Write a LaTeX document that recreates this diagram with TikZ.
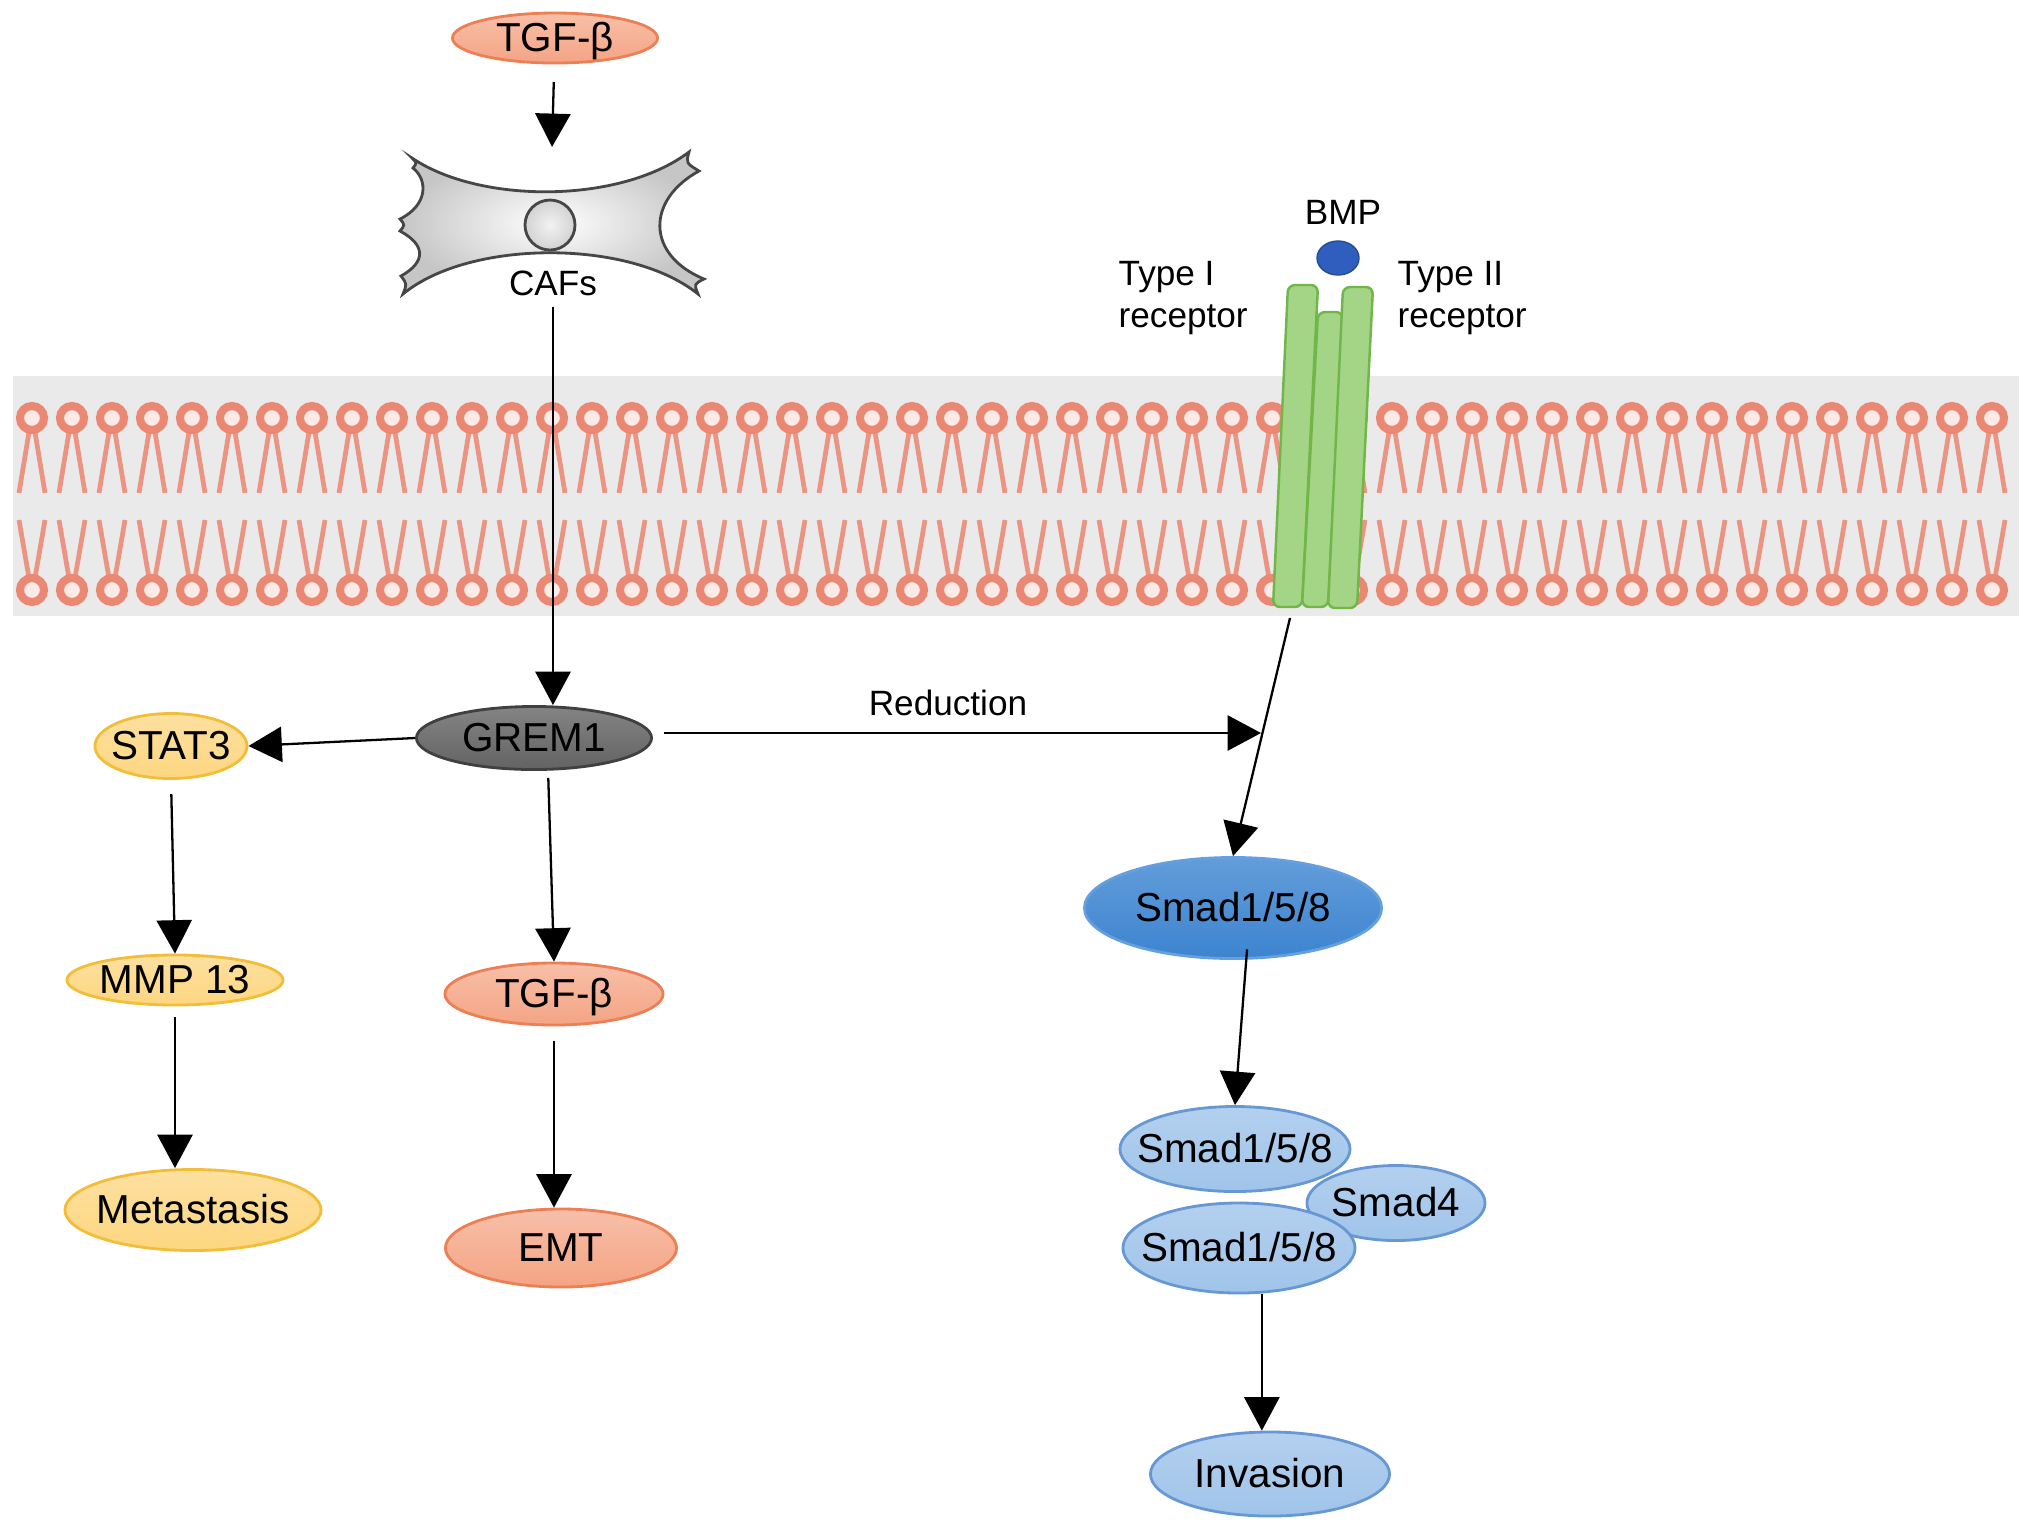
\documentclass[tikz,border=0pt]{standalone}
\usepackage{fontspec}
\setmainfont{Liberation Sans}
\usepackage{xcolor}
\usepackage{mathtools}
\usetikzlibrary{shapes.geometric,arrows.meta}

\definecolor{tgfcol}{RGB}{244,164,132}
\definecolor{tgfline}{RGB}{236,128,84}
\definecolor{statcol}{RGB}{253,214,128}
\definecolor{statline}{RGB}{242,190,58}
\definecolor{gremcol}{RGB}{110,110,110}
\definecolor{smadcol}{RGB}{60,132,208}
\definecolor{smadline}{RGB}{100,160,224}
\definecolor{cplxcol}{RGB}{160,196,234}
\definecolor{cplxline}{RGB}{104,152,212}
\definecolor{lipid}{RGB}{234,136,116}
\definecolor{recfill}{RGB}{164,212,134}
\definecolor{recline}{RGB}{112,182,72}
\definecolor{bmpcol}{RGB}{48,94,190}
\definecolor{band}{RGB}{234,234,234}

\tikzset{
  mol/.style={ellipse, inner sep=0pt, line width=0.8pt, text height=1.45ex, text depth=0pt,
    font=\fontsize{11.5}{13}\selectfont,
    execute at begin node={\hbox to 0pt\bgroup\hss}, execute at end node={\hss\egroup}},
  tgf/.style={mol, draw=tgfline, top color=tgfcol!70!white, bottom color=tgfcol},
  stat/.style={mol, draw=statline, top color=statcol!75!white, bottom color=statcol},
  grem/.style={mol, draw=black!75, top color=gremcol!85!white, bottom color=gremcol!90!black},
  smad/.style={mol, draw=smadline, top color=smadcol!80!white, bottom color=smadcol},
  cplx/.style={mol, draw=cplxline, top color=cplxcol!80!white, bottom color=cplxcol},
  lbl/.style={font=\fontsize{10}{12}\selectfont, inner sep=0pt, align=left},
  arr/.style={-{Triangle[length=9.5pt,width=10pt]}, line width=0.65pt, black},
  lhead/.style={draw=lipid, line width=2.3pt, fill=lipid!18},
  ltail/.style={draw=lipid!90, line width=1.35pt},
  bar/.style={draw=recline, line width=0.7pt, fill=recfill, rounded corners=2pt},
  cellwall/.style={draw=gray!55!black, line width=0.8pt, inner color=white, outer color=gray!45}
}

\begin{document}
\begin{tikzpicture}[x=0.01cm, y=-0.01cm]
\useasboundingbox (0,0) rectangle (2032,1529);

% membrane
\fill[band] (13,376) rectangle (2019,616);
\foreach \hx in {32,72,...,2000}{
  \draw[ltail] (\hx-3,432) -- (\hx-13,493) (\hx+3,432) -- (\hx+13,493);
  \draw[ltail] (\hx-13,520) -- (\hx-3,578) (\hx+13,520) -- (\hx+3,578);
  \draw[lhead] (\hx,418) circle[radius=12];
  \draw[lhead] (\hx,590) circle[radius=12];
}

% receptor
\draw[bar] (1288,285) -- (1318,285) -- (1302,607) -- (1273,607) -- cycle;
\draw[bar] (1318,312) -- (1343,312) -- (1328,607) -- (1302,607) -- cycle;
\draw[bar] (1343,287) -- (1373,287) -- (1357,608) -- (1328,608) -- cycle;
\fill[bmpcol, draw=bmpcol!80!black, line width=0.4pt] (1338,258) ellipse[x radius=21, y radius=17];
\node[lbl] (bmp) at (1343,212) {BMP};
\node[lbl, anchor=west] (typeone) at (1118,298) {Type I\\receptor};
\node[lbl, anchor=west] (typetwo) at (1397,298) {Type II\\receptor};
\coordinate (recbase) at (1290,618);

% fibroblast
\shade[cellwall] (412,158)
  .. controls (480,204) and (620,204) .. (689,152)
  .. controls (686,163) .. (699,171)
  .. controls (646,200) and (646,255) .. (704,279)
  .. controls (694,284) .. (698,294)
  .. controls (630,239) and (470,239) .. (403,294)
  .. controls (407,284) .. (401,276)
  .. controls (426,262) and (426,245) .. (400,231)
  .. controls (405,225) .. (400,219)
  .. controls (428,205) and (428,180) .. (413,168)
  .. controls (417,163) .. cycle;
\shade[draw=gray!55!black, line width=0.8pt, inner color=gray!10, outer color=gray!35] (550,225) circle[radius=25];
\node[lbl] (caf) at (553,283) {CAFs};
\coordinate (cellin) at (552,147);

% molecules
\node[tgf, minimum width=2.05cm, minimum height=0.5cm] (tgfA) at (555,38) {TGF-β};
\node[grem, minimum width=2.35cm, minimum height=0.63cm] (grem) at (534,738) {GREM1};
\node[stat, minimum width=1.52cm, minimum height=0.65cm] (stat) at (171,746) {STAT3};
\node[stat, minimum width=2.16cm, minimum height=0.5cm] (mmp) at (175,980) {MMP 13};
\node[stat, minimum width=2.56cm, minimum height=0.81cm] (meta) at (193,1210) {Metastasis};
\node[tgf, minimum width=2.18cm, minimum height=0.62cm] (tgfB) at (554,994) {TGF-β};
\node[tgf, minimum width=2.31cm, minimum height=0.78cm] (emt) at (561,1248) {EMT};
\node[smad, minimum width=2.97cm, minimum height=1.01cm] (smad) at (1233,908) {Smad1/5/8};
\node[cplx, minimum width=2.30cm, minimum height=0.85cm] (smadA) at (1235,1149) {Smad1/5/8};
\node[cplx, minimum width=1.78cm, minimum height=0.75cm] (smadF) at (1396,1203) {Smad4};
\node[cplx, minimum width=2.32cm, minimum height=0.90cm] (smadB) at (1239,1248) {Smad1/5/8};
\node[cplx, minimum width=2.39cm, minimum height=0.84cm] (inv) at (1270,1474) {Invasion};
\node[lbl] (red) at (948,703) {Reduction};
\coordinate (redtip) at (1261,733);

% arrows
\draw[arr, shorten <=5pt] (tgfA) -- (cellin);
\draw[arr, shorten <=3pt] (caf.south) -- (caf.south |- grem.north);
\draw[arr] (grem.west) -- (stat.east);
\draw[arr, shorten <=3pt] (grem.east |- redtip) -- (redtip);
\draw[arr] (recbase) -- (smad.north);
\draw[arr, shorten <=4pt] (stat.south) -- (mmp.north);
\draw[arr, shorten <=3pt] (mmp.south) -- (mmp.south |- meta.north);
\draw[arr, shorten <=2pt] ([xshift=4pt]grem.south) -- (tgfB.north);
\draw[arr, shorten <=4pt] (tgfB.south) -- (tgfB.south |- emt.north);
\draw[arr] ([xshift=4pt,yshift=3pt]smad.south) -- (smadA.north);
\draw[arr] ([xshift=6.5pt]smadB.south) -- ([xshift=6.5pt]smadB.south |- inv.north);
\end{tikzpicture}
\end{document}
